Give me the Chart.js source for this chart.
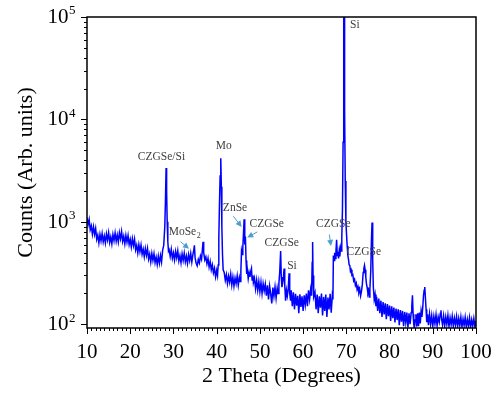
<!DOCTYPE html>
<html><head><meta charset="utf-8">
<script src="https://cdn.jsdelivr.net/npm/chart.js@4.4.1/dist/chart.umd.min.js"></script>
<style>html,body{margin:0;padding:0;background:#fff;}canvas{display:block;}</style>
</head><body>
<canvas id="c" width="504" height="396"></canvas>
<script>
// ---- data (2θ in degrees, counts) ----
const theta = [
 10,10.25,10.5,10.75,11,11.25,11.5,11.75,12,12.25,12.5,12.75,
 13,13.25,13.5,13.75,14,14.25,14.5,14.75,15,15.25,15.5,15.75,
 16,16.25,16.5,16.75,17,17.25,17.5,17.75,18,18.25,18.5,18.75,
 19,19.25,19.5,19.75,20,20.25,20.5,20.75,21,21.25,21.5,21.75,
 22,22.25,22.5,22.75,23,23.25,23.5,23.75,24,24.25,24.5,24.75,
 25,25.25,25.5,25.75,26,26.25,26.5,26.75,27,27.25,27.5,27.75,
 28,28.15,28.3,28.42,28.55,28.7,28.85,
 29,29.25,29.5,29.75,30,30.25,30.5,30.75,31,31.25,31.5,31.75,
 32,32.25,32.5,32.75,33,33.25,33.5,33.75,34,34.25,34.5,
 34.7,34.85,35,35.25,35.5,35.75,36,36.25,36.5,36.7,36.85,37,
 37.25,37.5,37.75,38,38.25,38.5,38.75,39,39.25,39.5,39.75,40,40.2,40.35,
 40.5,40.65,40.8,40.95,41.08,41.2,41.35,41.5,
 41.75,42,42.25,42.5,42.75,43,43.25,43.5,43.75,44,44.25,44.5,44.75,45,45.25,45.45,
 45.6,45.75,45.9,46.05,46.2,46.35,46.5,46.65,46.8,46.95,
 47.1,47.3,47.5,47.7,47.9,48.05,48.2,48.4,
 48.5,48.75,49,49.25,49.5,49.75,50,50.25,50.5,50.75,51,51.25,51.5,51.75,52,52.25,52.5,52.75,53,53.25,53.5,53.75,54,54.2,
 54.4,54.6,54.8,54.95,55.1,55.3,55.45,55.6,55.75,55.95,56.15,56.35,56.55,56.75,56.9,57.1,
 57.25,57.5,57.75,58,58.25,58.5,58.75,59,59.25,59.5,59.75,60,60.25,60.5,60.75,61,61.25,61.5,61.75,61.95,62.1,62.2,62.3,62.45,
 62.75,63,63.25,63.5,63.75,64,64.25,64.5,64.75,65,65.25,65.5,65.75,66,66.25,66.5,66.75,66.9,
 67,67.15,67.3,67.45,67.6,67.75,67.9,68.05,68.2,68.35,68.5,68.65,68.8,68.95,69.1,69.25,69.4,69.5,69.6,69.75,69.9,
 70.05,70.2,70.35,70.5,70.65,70.8,70.95,71.1,71.3,71.5,71.7,71.9,72.1,72.3,72.5,72.7,72.9,73.1,73.3,73.5,
 73.7,73.9,74.05,74.2,74.35,74.5,74.65,74.8,75,75.15,75.3,75.45,75.65,75.8,75.95,76.1,76.25,76.45,76.65,
 76.85,77,77.25,77.5,77.75,78,78.25,78.5,78.75,79,79.25,79.5,79.75,80,80.25,80.5,80.75,81,81.25,81.5,
 81.75,82,82.25,82.5,82.75,83,83.25,83.5,83.75,84,84.25,84.5,84.75,
 85,85.15,85.3,85.45,85.6,85.75,85.9,86.1,86.3,86.5,86.7,86.9,87.1,87.3,87.5,87.7,87.85,88,88.15,88.3,88.45,88.6,88.8,
 89,89.25,89.5,89.75,90,90.25,90.5,90.75,91,91.25,91.5,91.75,91.9,92.05,92.25,92.5,92.75,93,93.25,93.5,
 93.75,94,94.25,94.5,94.75,95,95.25,95.5,95.75,96,96.25,96.5,96.75,97,97.25,97.5,97.75,98,98.25,98.5,
 98.75,99,99.25,99.5,99.75,100
];
const counts = [
 1100,939,1056,837,915,757,894,755,862,675,745,622,
 754,651,770,637,728,623,763,665,784,630,714,609,
 754,656,781,646,744,636,785,684,806,644,724,609,
 738,632,737,601,676,570,687,587,678,533,592,496,
 599,512,594,482,541,456,550,472,549,434,485,406,
 492,420,490,400,452,383,463,394,470,405,530,589,
 900,1600,3350,2000,1000,640,520,
 535,460,539,441,499,424,514,445,521,416,469,398,
 487,420,495,407,463,393,480,418,493,405,479,
 530,590,450,395,372,430,398,465,430,540,640,500,
 425,455,390,440,362,410,340,380,318,352,290,335,300,380,
 700,1500,2800,4180,2200,900,480,340,
 320,268,305,250,296,258,310,242,290,236,284,250,298,240,288,262,
 330,520,480,560,760,1060,600,720,420,310,
 340,280,320,290,330,350,270,300,
 255,282,222,270,215,262,208,258,200,250,212,246,190,240,175,236,198,160,228,188,232,180,226,200,
 250,330,520,290,230,260,290,350,240,170,215,190,220,315,200,170,
 215,150,205,140,198,152,190,128,196,148,188,135,192,155,200,150,215,175,220,190,400,635,300,185,
 205,140,195,128,188,145,200,122,185,135,195,118,182,140,198,130,190,175,
 470,420,500,440,520,670,470,510,440,520,460,560,520,700,1300,6000,150000,150000,12000,2500,1000,
 750,580,470,430,380,375,330,340,300,305,265,275,240,252,218,232,205,220,190,210,
 245,320,350,376,340,290,250,230,200,210,185,220,330,650,985,420,230,175,195,
 150,185,135,178,128,170,118,165,125,160,112,158,120,152,108,150,115,146,104,142,
 110,140,98,138,106,135,96,132,104,130,93,128,100,
 130,150,192,125,100,90,110,125,95,128,96,130,102,135,118,150,190,215,231,180,140,105,125,
 98,126,100,122,96,120,101,124,97,118,105,128,137,112,99,121,96,118,100,122,
 95,116,99,120,96,115,98,119,95,114,97,118,94,113,97,117,94,112,96,116,
 93,111,96,114,94,108
];
const xTickValues = [10,20,30,40,50,60,70,80,90,100];
const xTickLabels = ['10','20','30','40','50','60','70','80','90','100'];
const xMinorStep = 1;
const yTickExponents = [2,3,4,5];
const yTickLabels = ['2','3','4','5'];
const xTitle = '2 Theta (Degrees)';
const yTitle = 'Counts (Arb. units)';

// peak labels, anchored in data units (2θ, counts)
const peakLabels = [
 {text:'CZGSe/Si', x:27.24, y:4049, align:'center'},
 {text:'MoSe', sub:'2', x:28.90, y:741, align:'left'},
 {text:'Mo', x:41.63, y:5094, align:'center'},
 {text:'ZnSe', x:44.24, y:1280, align:'center'},
 {text:'CZGSe', x:51.58, y:893, align:'center'},
 {text:'CZGSe', x:55.05, y:578, align:'center'},
 {text:'Si', x:57.43, y:350, align:'center'},
 {text:'CZGSe', x:66.99, y:893, align:'center'},
 {text:'CZGSe', x:74.05, y:472, align:'center'},
 {text:'Si', x:70.85, y:77560, align:'left'}
];
const arrows = [
 {x1:31.63, y1:640, x2:33.60, y2:547},
 {x1:43.85, y1:1136, x2:45.79, y2:893},
 {x1:49.40, y1:798, x2:47.09, y2:703},
 {x1:66.06, y1:752, x2:66.46, y2:582}
];

const SERIF = '"Liberation Serif", "Times New Roman", serif';

const axisDeco = {
 id: 'axisDeco',
 afterDraw(chart) {
  const ctx = chart.ctx, a = chart.chartArea;
  const xs = chart.scales.x, ys = chart.scales.y;
  ctx.save();
  // frame
  ctx.strokeStyle = '#000';
  ctx.lineWidth = 1.5;
  ctx.strokeRect(a.left, a.top, a.right - a.left, a.bottom - a.top);
  // x ticks
  ctx.lineWidth = 1;
  ctx.beginPath();
  const x0 = xTickValues[0], x1 = xTickValues[xTickValues.length - 1];
  for (let v = x0; v <= x1 + 1e-9; v += xMinorStep) {
   const px = Math.round(xs.getPixelForValue(v)) + 0.5;
   const len = xTickValues.includes(v) ? 6 : 3;
   ctx.moveTo(px, a.bottom);
   ctx.lineTo(px, a.bottom + len);
  }
  // y ticks (log major + minor)
  for (let i = 0; i < yTickExponents.length; i++) {
   const e = yTickExponents[i];
   const last = i === yTickExponents.length - 1;
   for (let m = 1; m <= (last ? 1 : 9); m++) {
    const py = Math.round(ys.getPixelForValue(m * Math.pow(10, e))) + 0.5;
    const len = m === 1 ? 6 : 3;
    ctx.moveTo(a.left, py);
    ctx.lineTo(a.left - len, py);
   }
  }
  ctx.stroke();
  // x tick labels
  ctx.fillStyle = '#000';
  ctx.font = '21px ' + SERIF;
  ctx.textAlign = 'center';
  ctx.textBaseline = 'alphabetic';
  xTickValues.forEach((v, i) => ctx.fillText(xTickLabels[i], xs.getPixelForValue(v), a.bottom + 29.5));
  // y tick labels 10^n
  yTickExponents.forEach((e, i) => {
   const py = ys.getPixelForValue(Math.pow(10, e));
   ctx.font = '21px ' + SERIF;
   ctx.textAlign = 'right';
   ctx.textBaseline = 'middle';
   ctx.fillText('10', a.left - 18.5, py + 0.5);
   ctx.font = '13px ' + SERIF;
   ctx.textAlign = 'left';
   ctx.fillText(yTickLabels[i], a.left - 18, py - 6);
  });
  // peak labels
  ctx.fillStyle = '#404040';
  ctx.textBaseline = 'alphabetic';
  peakLabels.forEach(l => {
   const px = xs.getPixelForValue(l.x), py = ys.getPixelForValue(l.y);
   ctx.font = '11.5px ' + SERIF;
   ctx.textAlign = l.align;
   ctx.fillText(l.text, px, py);
   if (l.sub) {
    const w = ctx.measureText(l.text).width;
    ctx.font = '8px ' + SERIF;
    ctx.textAlign = 'left';
    ctx.fillText(l.sub, px + w + 0.5, py + 3);
   }
  });
  // arrows
  ctx.strokeStyle = '#4a9fcc';
  ctx.fillStyle = '#4a9fcc';
  ctx.lineWidth = 1;
  arrows.forEach(ar => {
   const X1 = xs.getPixelForValue(ar.x1), Y1 = ys.getPixelForValue(ar.y1);
   const X2 = xs.getPixelForValue(ar.x2), Y2 = ys.getPixelForValue(ar.y2);
   const ang = Math.atan2(Y2 - Y1, X2 - X1), c = Math.cos(ang), s = Math.sin(ang);
   const L = 6, W = 3;
   ctx.beginPath();
   ctx.moveTo(X1, Y1);
   ctx.lineTo(X2 - L * 0.6 * c, Y2 - L * 0.6 * s);
   ctx.stroke();
   ctx.beginPath();
   ctx.moveTo(X2, Y2);
   ctx.lineTo(X2 - L * c + W * s, Y2 - L * s - W * c);
   ctx.lineTo(X2 - L * c - W * s, Y2 - L * s + W * c);
   ctx.closePath();
   ctx.fill();
  });
  ctx.restore();
 }
};

new Chart(document.getElementById('c'), {
 type: 'line',
 data: {
  datasets: [{
   data: theta.map((t, i) => ({x: t, y: counts[i]})),
   borderColor: '#0000ff',
   borderWidth: 1.5,
   pointRadius: 0,
   tension: 0,
   fill: false
  }]
 },
 options: {
  responsive: false,
  animation: false,
  devicePixelRatio: 1,
  layout: {padding: {top: 17, right: 28, left: 0, bottom: 0}},
  plugins: {legend: {display: false}, tooltip: {enabled: false}},
  scales: {
   x: {
    type: 'linear', min: 10, max: 100,
    grid: {display: false}, border: {display: false},
    ticks: {display: false},
    title: {display: true, text: xTitle, color: '#000', font: {family: SERIF, size: 22}, padding: {top: 0, bottom: 7}},
    afterFit(s) { s.height = 68; }
   },
   y: {
    type: 'logarithmic', min: 92, max: 100000,
    grid: {display: false}, border: {display: false},
    ticks: {display: false},
    title: {display: true, text: yTitle, color: '#000', font: {family: SERIF, size: 22}, padding: {top: 12.7, bottom: 0}},
    afterFit(s) { s.width = 87; }
   }
  }
 },
 plugins: [axisDeco]
});
</script>
</body></html>
